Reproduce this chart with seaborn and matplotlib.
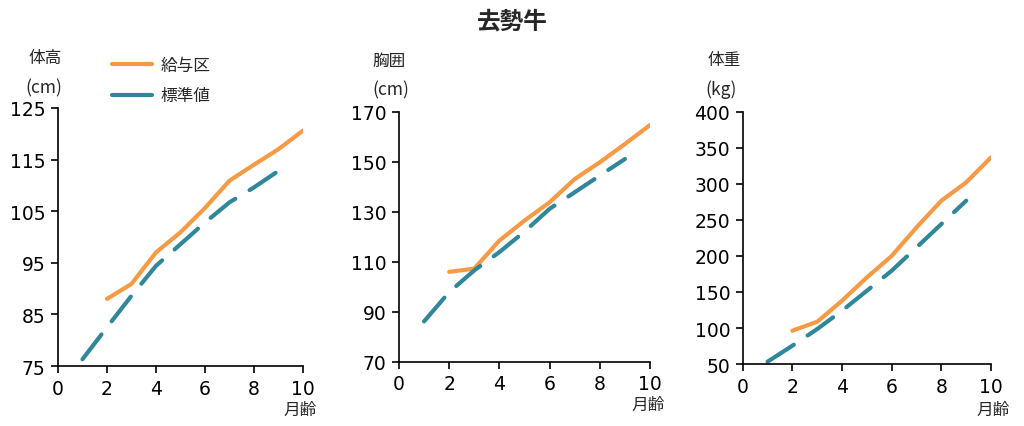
import matplotlib
matplotlib.use("Agg")
import matplotlib.pyplot as plt
import seaborn as sns

sns.set_theme(style="ticks")
plt.rcParams['font.family'] = ['DejaVu Sans', 'Noto Sans CJK JP']

title = "去勢牛"
series_names = ["給与区", "標準値"]
xlabel = "月齢"

months_feed = [2, 3, 4, 5, 6, 7, 8, 9, 10]
months_std = [1, 2, 3, 4, 5, 6, 7, 8, 9]

height_feed = [88.0, 90.9, 97.0, 100.9, 105.6, 110.9, 114.0, 117.0, 120.6]
height_std = [76.3, 82.5, 88.6, 94.4, 98.6, 102.8, 106.7, 109.6, 112.8]

chest_feed = [106.0, 107.3, 118.5, 126.5, 133.8, 143.1, 149.8, 157.1, 164.7]
chest_std = [86.2, 97.9, 106.6, 113.9, 122.1, 131.2, 137.8, 144.5, 151.1]

weight_feed = [96.3, 108.7, 137.9, 170.2, 200.0, 239.6, 276.6, 302.0, 336.7]
weight_std = [53.3, 75.5, 98.6, 124.0, 151.7, 179.5, 211.8, 244.2, 276.6]

panel_titles = ["体高", "胸囲", "体重"]
panel_units = ["(cm)", "(cm)", "(kg)"]
ylims = [(75, 125), (70, 170), (50, 400)]
yticks = [[75, 85, 95, 105, 115, 125],
          [70, 90, 110, 130, 150, 170],
          [50, 100, 150, 200, 250, 300, 350, 400]]
xticks = [0, 2, 4, 6, 8, 10]

orange = "#F79A46"
teal = "#2F8799"

fig = plt.figure(figsize=(10.24, 4.27), dpi=100)
positions = [
    [0.0566, 0.1405, 0.2393, 0.6045],
    [0.3896, 0.150, 0.2452, 0.586],
    [0.7253, 0.145, 0.2425, 0.591],
]
feeds = [height_feed, chest_feed, weight_feed]
stds = [height_std, chest_std, weight_std]

jp = ['Noto Sans CJK JP', 'DejaVu Sans']

axes = []
for i in range(3):
    ax = fig.add_axes(positions[i])
    axes.append(ax)
    sns.lineplot(x=months_feed, y=feeds[i], ax=ax, color=orange, linewidth=3.0,
                 label=series_names[0] if i == 0 else None, legend=False)
    sns.lineplot(x=months_std, y=stds[i], ax=ax, color=teal, linewidth=3.0,
                 label=series_names[1] if i == 0 else None, legend=False)
    ax.lines[1].set_dashes((7.5, 4))
    for ln in ax.lines:
        ln.set_solid_capstyle('round')
        ln.set_dash_capstyle('round')
        ln.set_solid_joinstyle('round')
    ax.set_xlim(0, 10)
    ax.set_ylim(*ylims[i])
    ax.set_xticks(xticks)
    ax.set_yticks(yticks[i])
    ax.tick_params(axis='both', labelsize=13.5, length=5, width=1.2, colors='black', pad=4)
    sns.despine(ax=ax)
    for s in ['left', 'bottom']:
        ax.spines[s].set_color('black')
        ax.spines[s].set_linewidth(1.2)
    ax.set_xlabel("")
    ax.set_ylabel("")
    ax.grid(False)

# panel labels: (x of title, y of title, x of unit, y of unit) in pixels
label_px = [(28, 58, 25, 88),
            (372, 61, 372, 90),
            (707, 61, 705, 90)]
W, H = 1024, 427
for i in range(3):
    x1, y1, x2, y2 = label_px[i]
    fig.text(x1 / W, 1 - y1 / H, panel_titles[i], fontsize=12, family=jp, ha='left', va='center')
    fig.text(x2 / W, 1 - y2 / H, panel_units[i], fontsize=12.5, family=jp, ha='left', va='center')

# x labels 月齢
for xc, yc in [(300, 410), (648, 405), (993, 410)]:
    fig.text(xc / W, 1 - yc / H, xlabel, fontsize=12, family=jp, ha='center', va='center')

fig.text(0.5, 1 - 22 / H, title, fontsize=17, fontweight='bold', family=jp, ha='center', va='center')

handles, labels = axes[0].get_legend_handles_labels()
leg = fig.legend(handles, labels, loc='upper left', bbox_to_anchor=(112 / W, 1 - 58 / H),
                 frameon=False, prop={'family': 'Noto Sans CJK JP', 'size': 12},
                 handlelength=2.4, handletextpad=0.5, labelspacing=0.8, borderaxespad=0,
                 borderpad=0)
leg.get_lines()[1].set_linestyle('-')

fig.savefig("out.png", dpi=100)
